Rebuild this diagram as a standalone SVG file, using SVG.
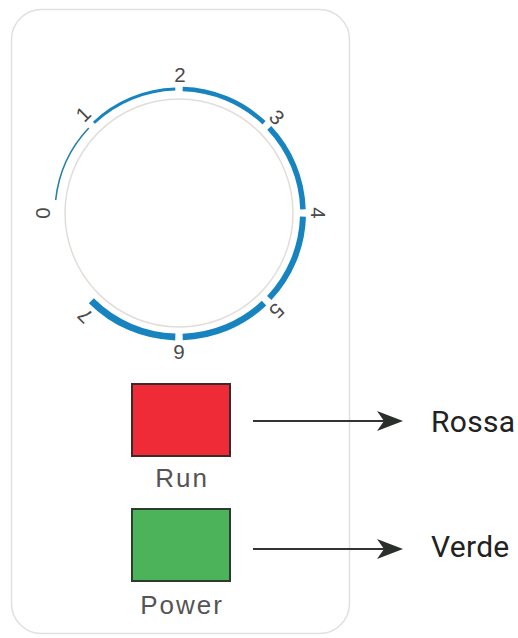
<svg xmlns="http://www.w3.org/2000/svg" width="518" height="638" viewBox="0 0 518 638">
  <style>
    .panel { fill: #ffffff; stroke: #e0e0e0; stroke-width: 1.5; }
    .ring { fill: none; stroke: #e2ddd9; stroke-width: 1.5; }
    .arc { fill: none; stroke: #1784c0; stroke-linecap: butt; }
    .num { font-family: "Liberation Sans", Arial, sans-serif; font-size: 20.5px; fill: #4a4a4a; text-anchor: middle; dominant-baseline: central; }
    .lbl { font-family: "Liberation Sans", Arial, sans-serif; font-size: 26px; letter-spacing: 2px; fill: #555555; text-anchor: middle; }
    .out { font-family: Roboto, "Liberation Sans", sans-serif; font-size: 30px; letter-spacing: 0.3px; fill: #222222; }
    .conn { stroke: #333333; stroke-width: 2; fill: none; }
    .head { fill: #2a2f2c; }
  </style>
  <rect id="panel" class="panel" x="11.5" y="9.5" width="338" height="624" rx="30" ry="30"/>
  <g id="dial">
    <circle class="ring" cx="179" cy="213" r="114"/>
    <path class="arc" style="stroke-width:1.6;stroke:#2a80a8" d="M55.68 200.04 A124 124 0 0 1 88.76 127.96"/>
    <path class="arc" style="stroke-width:3" d="M93.96 122.76 A124 124 0 0 1 175.32 89.05"/>
    <path class="arc" style="stroke-width:4.5" d="M182.68 89.05 A124 124 0 0 1 264.04 122.76"/>
    <path class="arc" style="stroke-width:5.5" d="M269.24 127.96 A124 124 0 0 1 302.95 209.32"/>
    <path class="arc" style="stroke-width:6" d="M302.95 216.68 A124 124 0 0 1 269.24 298.04"/>
    <path class="arc" style="stroke-width:6.5" d="M264.04 303.24 A124 124 0 0 1 182.68 336.95"/>
    <path class="arc" style="stroke-width:7" d="M175.32 336.95 A124 124 0 0 1 91.32 300.68"/>
    <text class="num" transform="translate(42 213) rotate(-90)">0</text>
    <text class="num" transform="translate(83 114) rotate(-45)">1</text>
    <text class="num" transform="translate(180 74)">2</text>
    <text class="num" transform="translate(277 117) rotate(45)">3</text>
    <text class="num" transform="translate(318 213) rotate(90)">4</text>
    <text class="num" transform="translate(277 311) rotate(135)">5</text>
    <text class="num" transform="translate(179 352) rotate(180)">6</text>
    <text class="num" transform="translate(85 316) rotate(225)">7</text>
  </g>
  <g id="run">
    <rect x="132" y="384" width="98" height="72" fill="#ee2b37" stroke="#3a2a2a" stroke-width="2"/>
    <text class="lbl" x="182" y="487">Run</text>
  </g>
  <g id="power">
    <rect x="132" y="509" width="98" height="72" fill="#4db35b" stroke="#2c3d30" stroke-width="2"/>
    <text class="lbl" x="182" y="614">Power</text>
  </g>
  <g id="rossa">
    <text class="out" x="431" y="432">Rossa</text>
  </g>
  <g id="verde">
    <text class="out" x="431" y="557">Verde</text>
  </g>
  <g id="connectors">
    <line class="conn" x1="253" y1="421" x2="388" y2="421"/>
    <polygon class="head" points="403,421 377,411 384,421 377,431"/>
    <line class="conn" x1="253" y1="549" x2="388" y2="549"/>
    <polygon class="head" points="403,549 377,539 384,549 377,559"/>
  </g>
</svg>
